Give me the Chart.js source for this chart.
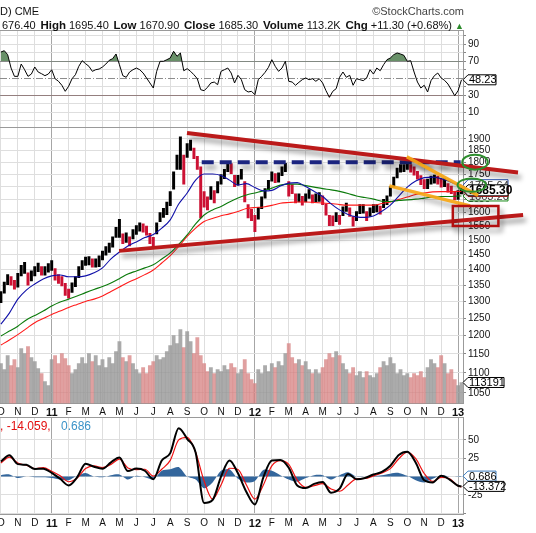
<!DOCTYPE html>
<html>
<head>
<meta charset="utf-8">
<title>Gold (CME) daily chart</title>
<script src="https://cdn.jsdelivr.net/npm/chart.js@4.4.1/dist/chart.umd.min.js"></script>
<style>
  html, body { margin:0; padding:0; background:#fff; }
  #wrap { position:relative; width:536px; height:533px; overflow:hidden; background:#fff;
          font-family:"Liberation Sans", Arial, Helvetica, sans-serif; color:#111; }
  #wrap canvas { position:absolute; left:0; top:0; }
  .t { position:absolute; white-space:nowrap; line-height:13px; font-size:11px; }
  .b { font-weight:bold; font-size:11.5px; }
  #hdr { position:absolute; left:2px; top:18.5px; width:462px; display:flex; justify-content:space-between;
         white-space:nowrap; line-height:13px; font-size:11px; }
</style>
</head>
<body>
<div id="wrap">
  <canvas id="cRsi" width="536" height="533"></canvas>
  <canvas id="cPrice" width="536" height="533"></canvas>
  <canvas id="cMacd" width="536" height="533"></canvas>

  <div class="t" style="left:0;top:5px;">D) CME</div>
  <div class="t" style="right:72px;top:5px;color:#444;">©StockCharts.com</div>

  <div id="hdr">
    <span>676.40</span>
    <span><span class="b">High</span> 1695.40</span>
    <span><span class="b">Low</span> 1670.90</span>
    <span><span class="b">Close</span> 1685.30</span>
    <span><span class="b">Volume</span> 113.2K</span>
    <span><span class="b">Chg</span> +11.30 (+0.68%) <span style="color:#2a8a2a;font-size:9px;">▲</span></span>
  </div>

  <div class="t" style="left:0;top:419px;font-size:12px;line-height:14px;color:#e31010;">, -14.059,</div>
  <div class="t" style="left:61px;top:419px;font-size:12px;line-height:14px;color:#3b93c8;">0.686</div>
</div>

<script>
// ---------------- DATA ----------------
const monthLabels = ['O','N','D','11','F','M','A','M','J','J','A','S','O','N','D','12','F','M','A','M','J','J','A','S','O','N','D','13'];
const yearIdx = [3, 15, 27];

// daily-bar samples every 0.2 month starting Oct 2010 (month 0)
const sampleMonths = Array.from({length:137}, (_, i) => i * 0.2);

const highs = [1330,1360,1384,1378,1366,1388,1414,1424,1390,1396,
  1410,1422,1410,1410,1420,1430,1404,1384,1378,1356,
  1338,1358,1378,1410,1430,1442,1444,1436,1436,1446,
  1462,1478,1490,1512,1546,1575,1522,1526,1512,1538,
  1552,1562,1558,1550,1524,1510,1562,1600,1616,1640,
  1680,1760,1830,1910,1830,1880,1895,1860,1825,1780,
  1680,1660,1700,1684,1720,1748,1770,1800,1794,1745,
  1745,1770,1720,1630,1612,1590,1620,1660,1692,1725,
  1760,1752,1756,1780,1795,1720,1708,1672,1672,1662,
  1672,1688,1668,1672,1676,1664,1632,1590,1588,1600,
  1590,1622,1636,1618,1585,1604,1630,1630,1604,1618,
  1630,1630,1624,1650,1664,1700,1738,1775,1790,1790,
  1800,1790,1780,1762,1744,1728,1730,1742,1746,1742,
  1730,1732,1712,1702,1680,1684,1695.4];

const lows = [1296,1325,1352,1350,1338,1344,1380,1388,1350,1364,
  1380,1394,1382,1382,1392,1398,1366,1356,1348,1318,
  1310,1328,1346,1374,1400,1414,1416,1408,1408,1410,
  1432,1448,1458,1476,1510,1510,1488,1492,1480,1504,
  1520,1532,1528,1518,1488,1476,1522,1566,1582,1592,
  1626,1690,1770,1770,1710,1820,1850,1815,1770,1580,
  1620,1610,1650,1636,1675,1710,1732,1760,1752,1700,
  1706,1730,1640,1580,1570,1530,1575,1615,1655,1688,
  1722,1716,1718,1744,1760,1662,1672,1636,1640,1628,
  1640,1654,1636,1640,1642,1630,1590,1552,1552,1566,
  1556,1588,1604,1586,1550,1570,1596,1598,1570,1586,
  1600,1602,1594,1618,1630,1662,1698,1735,1758,1760,
  1770,1758,1746,1730,1708,1692,1692,1710,1714,1710,
  1698,1700,1678,1672,1648,1650,1670.9];

const volumes = [215600,183300,258700,204800,237200,194000,296500,269500,307200,247900,
  226400,188700,161700,118600,97000,237200,258700,215600,269500,242600,
  204800,161700,183300,215600,247900,215600,269500,226400,258700,204800,
  237200,194000,247900,215600,280300,334200,247900,226400,258700,215600,
  183300,161700,194000,161700,204800,226400,258700,237200,247900,280300,
  312600,366500,323400,398900,301800,388100,334200,269500,355700,258700,
  215600,172500,194000,161700,183300,172500,204800,183300,215600,194000,
  161700,183300,237200,161700,129400,107800,183300,161700,204800,172500,
  215600,194000,226400,204800,269500,323400,247900,215600,237200,204800,
  226400,183300,161700,183300,161700,194000,237200,269500,247900,280300,
  258700,215600,183300,161700,194000,150900,172500,140100,172500,150900,
  140100,161700,194000,226400,204800,247900,215600,161700,183300,150900,
  161700,140100,161700,150900,172500,140100,194000,237200,215600,194000,
  258700,215600,161700,183300,129400,97000,113191];

const rsi = [80.9,82.5,77.8,62.1,52.3,52.3,66.8,60.1,52.3,55,
  63.3,57.4,55.4,53.1,55,60.1,49.5,46.5,41.8,34.7,
  40.6,49.5,54.2,64.1,70.7,67.2,64.1,58.2,60.1,60.9,
  63.3,66.8,71.2,73.1,78.6,66,53.1,51.2,57.4,60.1,
  62.1,60.1,56.2,50.4,44.5,38.6,58.2,70,70,71.9,
  73.9,81.8,75.9,79.8,58.9,61.3,58.2,54.2,49.5,36.6,
  35.4,39.4,44.5,45.6,42.5,58.2,60.1,62.1,56.2,44.5,
  53.5,48.4,36.6,33.9,34.7,30.7,48.4,52.3,57,62.9,
  71.9,64.1,58.2,62.1,70,46.5,45.6,41.8,45.3,48.4,
  50.4,48.4,49.5,46.5,49.5,44.5,35.4,27.6,34.7,37.8,
  51.2,57.4,51.2,53.5,41.8,49.5,48.4,47.2,50.4,60.1,
  55,62.1,58.9,66,71.9,73.9,77.8,79.8,78.6,77,
  70,70.7,57.4,45.6,38.6,41.8,33.9,47.2,53.1,56.2,
  50.4,47.6,43.3,36.6,29.5,35.4,48.23];

// moving averages, MACD: every half month, plus the last bar
const halfMonths = [0,0.5,1,1.5,2,2.5,3,3.5,4,4.5,5,5.5,6,6.5,7,7.5,8,8.5,9,9.5,10,10.5,11,11.5,12,12.5,13,13.5,
  14,14.5,15,15.5,16,16.5,17,17.5,18,18.5,19,19.5,20,20.5,21,21.5,22,22.5,23,23.5,24,24.5,25,25.5,26,26.5,27,27.2];

const ma50 = [1233,1265,1307,1335,1354,1370,1380,1383,1377,1377,
  1380,1390,1406,1436,1459,1480,1494,1509,1520,1543,
  1573,1632,1675,1726,1751,1751,1745,1726,1706,1712,
  1696,1683,1685,1702,1714,1716,1700,1681,1661,1633,
  1610,1593,1584,1582,1587,1605,1628,1663,1698,1722,
  1736,1738,1732,1720,1708,1705.64];
const ma100 = [1199,1213,1227,1245,1258,1271,1286,1298,1307,1316.5,
  1327,1337,1346,1357,1371,1386,1396,1406,1416,1435.5,
  1456,1485,1518.5,1558,1591,1610,1623,1640,1655,1667,
  1675,1683,1694,1706,1710,1710,1704,1698,1692,1687,
  1681,1673,1663,1657,1651,1643,1642,1646,1648,1651,
  1655,1659,1661,1661,1663,1663.2];
const ma200 = [1174,1188,1203,1220,1237,1249,1261,1271,1282,1291,
  1300,1307,1316.5,1330.5,1344.6,1358.8,1371,1384,1399,1422,
  1447,1478,1513,1543,1567,1578,1588,1595,1604,1615,
  1619,1621,1627,1635,1638,1640,1640,1638,1636,1634,
  1630,1628,1628,1628,1628,1634,1640,1650,1659,1669,
  1675,1679,1680,1680,1681,1680.9];

const macd = [20.5,29,17,16,10.5,10.8,5,-3,-12,-1,
  17.6,13.5,10.8,19.5,26,7.5,10.9,8,-3.5,22,
  32,66,51.5,33,-36,-32,0,22.1,4.5,-21,
  -38,-1,22,22.6,12,-12,-15.5,-10,-7.5,-22,
  -16.5,3.5,-3.5,-1.8,2.8,6.4,14.8,29.5,33.8,19,
  -5,-8,1,-4,-12.5,-13.372];
const signal = [18.5,26.6,18.5,15.4,10.9,12.3,7.3,1,-7,-2.1,
  10.9,14.5,12.3,16.7,23.9,11.8,9.6,10,0.6,10,
  22.1,50,53.6,33.4,-6,-30.8,-11.5,11.4,9.6,-11.5,
  -30.8,-11.5,14.5,21.7,16.7,-4.8,-14.7,-12.4,-9.7,-17,
  -20,-11.5,-3,-2.6,1,5,10.9,24.4,33.4,24.4,
  4.2,-6.6,-1.2,-3,-12.9,-14.059];
const histogram = [2,3,-2,0,-1,-1,-2,-4,-5,1,
  5,0,-1,2,3,-4,1,-1,-4,8,
  10,13,0,-4,-16,-8,8,10,-3,-8,
  -6,9,8,2,-4,-7,-2,2,2,-4,
  2,6,0,0,1,2,4,5,1,-5,
  -8,-3,2,0,0.5,0.686];

// tick values
const priceTicks = [1050,1100,1150,1200,1250,1300,1350,1400,1450,1500,1550,1600,1650,1700,1750,1800,1850,1900,1950];
const priceLabels = [1050,1100,1150,1200,1250,1300,1350,1400,1450,1500,1550,1600,1650,1700,1750,1800,1850,1900];
const rsiTicks = [0,10,20,30,40,50,60,70,80,90,100];
const rsiLabels = [10,30,70,90];
const rsiLevels = [70, 50, 30];
const macdTicks = [-50,-25,0,25,50];
const macdLabels = [-25,0,25,50];

// last values shown in the right-hand tags
const lastClose = 1685.30;

// hand-drawn annotations, [month, price]
const upperRedLine = [[10.99,1927],[30.54,1757]];
const lowerRedLine = [[6.98,1463],[30.84,1591]];
const blueDashLine = [[11.86,1800],[27.15,1800]];
const orangeUpper = [[23.97,1823],[28.18,1665]];
const orangeLower = [[22.94,1703],[27.71,1625]];
const ellipseCenters = [[28.0,1800],[27.81,1706]];
const redBox = [[26.69,1624.7],[29.38,1550.6]];

// ---------------- HELPERS ----------------
const FONT = '"Liberation Sans", Arial, Helvetica, sans-serif';
const X_MIN = -0.053, X_MAX = 27.29;
const P_MIN = 1024.2, P_MAX = 1951.7;
const VOL_MAX = 1487000;
const pts = (xs, ys) => ys.map((v, i) => ({x: xs[i], y: v}));
const pairs = arr => arr.map(([x, y]) => ({x, y}));
const isYear = c => c && c.tick && yearIdx.includes(c.tick.value);

function xAxis(showLabels) {
  return {
    type:'linear', position:'bottom', min:X_MIN, max:X_MAX, bounds:'data', offset:false,
    afterBuildTicks(s){ s.ticks = monthLabels.map((_, i) => ({value:i})); },
    afterFit(s){ s.height = showLabels ? 14 : 0; s.paddingLeft = 0; s.paddingRight = 0; },
    grid:{ offset:false, drawTicks:false, lineWidth:1, color: c => isYear(c) ? '#a6a6a6' : '#dedede' },
    border:{ display:false },
    ticks:{ display:showLabels, autoSkip:false, maxRotation:0, minRotation:0, padding:3, color:'#111',
      font: c => isYear(c) ? {family:FONT, size:11, weight:'bold'} : {family:FONT, size:10},
      callback:(v, i) => monthLabels[i] }
  };
}
function yAxis(extra) {
  return Object.assign({
    position:'right', bounds:'data',
    afterFit(s){ s.width = 73; s.paddingTop = 0; s.paddingBottom = 0; },
    border:{ display:true, color:'#9a9a9a' }
  }, extra);
}
function baseOptions(pad, scales) {
  return {
    responsive:false, animation:false, devicePixelRatio:1, events:[],
    layout:{ padding:pad, autoPadding:false },
    plugins:{ legend:{display:false}, tooltip:{enabled:false} },
    scales
  };
}
function drawTag(ctx, x, yc, w, h, text, stroke, font, color) {
  ctx.save();
  ctx.beginPath();
  ctx.moveTo(x, yc);
  ctx.lineTo(x + 5, yc - h / 2);
  ctx.lineTo(x + 5 + w, yc - h / 2);
  ctx.lineTo(x + 5 + w, yc + h / 2);
  ctx.lineTo(x + 5, yc + h / 2);
  ctx.closePath();
  ctx.fillStyle = '#fff'; ctx.fill();
  ctx.lineWidth = 1; ctx.strokeStyle = stroke; ctx.stroke();
  ctx.fillStyle = color || '#000'; ctx.font = font;
  ctx.textAlign = 'left'; ctx.textBaseline = 'middle';
  ctx.fillText(text, x + 6, yc + 0.5);
  ctx.restore();
}
const framePlugin = {
  id:'frame',
  beforeDatasetsDraw(chart) {
    const {ctx, chartArea:a} = chart;
    ctx.save();
    ctx.strokeStyle = '#9a9a9a'; ctx.lineWidth = 1;
    ctx.beginPath();
    ctx.moveTo(a.left, a.top); ctx.lineTo(a.right, a.top);
    ctx.moveTo(a.left, a.bottom); ctx.lineTo(a.right, a.bottom);
    ctx.stroke();
    ctx.restore();
  }
};
const shadowPlugin = {
  id:'shadow',
  beforeDatasetDraw(chart, args) {
    const ds = chart.data.datasets[args.index];
    if (ds.shadow) {
      const ctx = chart.ctx;
      ctx.save();
      ctx.shadowColor = 'rgba(0,0,0,0.38)'; ctx.shadowBlur = 5;
      ctx.shadowOffsetX = 3; ctx.shadowOffsetY = 5;
    }
  },
  afterDatasetDraw(chart, args) {
    if (chart.data.datasets[args.index].shadow) chart.ctx.restore();
  }
};

// ---------------- RSI PANEL ----------------
new Chart(document.getElementById('cRsi'), {
  type:'line',
  data:{ datasets:[
    { data:pts(sampleMonths, rsi), borderColor:'#000', borderWidth:1, pointRadius:0, fill:false, order:0 },
    { data:pts(sampleMonths, rsi), borderColor:'rgba(0,0,0,0)', borderWidth:1, pointRadius:0, order:1,
      fill:{ target:{value:70}, above:'rgba(88,132,88,0.9)', below:'rgba(0,0,0,0)' } },
    { data:pts(sampleMonths, rsi), borderColor:'rgba(0,0,0,0)', borderWidth:1, pointRadius:0, order:2,
      fill:{ target:{value:30}, above:'rgba(0,0,0,0)', below:'rgba(192,72,72,0.9)' } }
  ]},
  options: baseOptions({top:30.5, bottom:405.5, left:0, right:0}, {
    x: xAxis(false),
    y: yAxis({ type:'linear', min:-7.88, max:106.24,
      afterBuildTicks(s){ s.ticks = rsiTicks.map(v => ({value:v})); },
      grid:{ drawTicks:true, tickLength:3, tickColor:'#888', lineWidth:1,
        color: c => (c.tick && (c.tick.value === 70 || c.tick.value === 30)) ? '#8c8c8c'
                    : (c.tick && c.tick.value === 50) ? 'rgba(0,0,0,0)' : '#dedede' },
      ticks:{ padding:2, color:'#111', font:{family:FONT, size:10}, autoSkip:false,
        callback: v => rsiLabels.includes(v) ? String(v) : '' }
    })
  }),
  plugins:[framePlugin, {
    id:'rsiLevels',
    beforeDatasetsDraw(chart) {
      const {ctx, chartArea:a, scales:{y}} = chart;
      ctx.save();
      ctx.strokeStyle = '#8c8c8c'; ctx.lineWidth = 1; ctx.setLineDash([7,2,1,2]);
      const py = Math.round(y.getPixelForValue(rsiLevels[1])) + 0.5;
      ctx.beginPath(); ctx.moveTo(a.left, py); ctx.lineTo(a.right, py); ctx.stroke();
      ctx.restore();
    },
    afterDraw(chart) {
      const {ctx, scales:{y}} = chart;
      const v = rsi[rsi.length - 1];
      drawTag(ctx, 463, y.getPixelForValue(v), 28, 10, v.toFixed(2), '#000', '11px ' + FONT);
    }
  }]
});

// ---------------- PRICE PANEL ----------------
const priceColors = highs.map((h, i) => (i > 0 && h + lows[i] < highs[i-1] + lows[i-1]) ? '#cc1133' : '#000');
const volColors = highs.map((h, i) => (i > 0 && h + lows[i] < highs[i-1] + lows[i-1]) ? 'rgba(214,128,128,0.75)' : 'rgba(150,150,150,0.8)');

new Chart(document.getElementById('cPrice'), {
  type:'line',
  data:{ datasets:[
    { type:'bar', data:pts(sampleMonths, volumes), yAxisID:'yv', backgroundColor:volColors,
      barThickness:3.2, grouped:false, order:10 },
    { type:'bar', data:highs.map((h, i) => ({x:sampleMonths[i], y:[lows[i], h]})), yAxisID:'y',
      backgroundColor:priceColors, barThickness:2.3, grouped:false, order:6 },
    { data:pts(halfMonths, ma200), yAxisID:'y', borderColor:'#ff1a1a', borderWidth:1.1, pointRadius:0, cubicInterpolationMode:'monotone', order:5 },
    { data:pts(halfMonths, ma100), yAxisID:'y', borderColor:'#0b7a0b', borderWidth:1.1, pointRadius:0, cubicInterpolationMode:'monotone', order:4 },
    { data:pts(halfMonths, ma50), yAxisID:'y', borderColor:'#1010a8', borderWidth:1.1, pointRadius:0, cubicInterpolationMode:'monotone', order:3 },
    { data:pairs(blueDashLine), yAxisID:'y', borderColor:'#1c2580', borderWidth:4, borderDash:[12,6], pointRadius:0, clip:false, shadow:true, order:2 },
    { data:pairs(upperRedLine), yAxisID:'y', borderColor:'#bb1a1a', borderWidth:4, pointRadius:0, clip:false, shadow:true, order:1 },
    { data:pairs(lowerRedLine), yAxisID:'y', borderColor:'#bb1a1a', borderWidth:4, pointRadius:0, clip:false, shadow:true, order:1 },
    { data:pairs(orangeUpper), yAxisID:'y', borderColor:'rgba(247,166,20,0.92)', borderWidth:3.5, pointRadius:0, clip:false, shadow:true, order:0 },
    { data:pairs(orangeLower), yAxisID:'y', borderColor:'rgba(247,166,20,0.92)', borderWidth:3.5, pointRadius:0, clip:false, shadow:true, order:0 }
  ]},
  options: baseOptions({top:127.5, bottom:115.5, left:0, right:0}, {
    x: xAxis(true),
    y: yAxis({ type:'logarithmic', min:P_MIN, max:P_MAX,
      afterBuildTicks(s){ s.ticks = priceTicks.map(v => ({value:v})); },
      grid:{ drawTicks:true, tickLength:3, tickColor:'#888', lineWidth:1, color:'#dedede' },
      ticks:{ padding:2, color:'#111', font:{family:FONT, size:10}, autoSkip:false,
        callback: v => priceLabels.includes(v) ? String(v) : '' }
    }),
    yv: { type:'linear', display:false, min:0, max:VOL_MAX }
  }),
  plugins:[framePlugin, shadowPlugin, {
    id:'priceTags',
    beforeDatasetsDraw(chart) {
      const {ctx, scales:{y, yv}} = chart;
      const f = '11px ' + FONT;
      const b50 = ma50[ma50.length-1], b100 = ma100[ma100.length-1], b200 = ma200[ma200.length-1];
      drawTag(ctx, 463, y.getPixelForValue(b50), 40, 11, b50.toFixed(2), '#2b50b0', f, '#333');
      drawTag(ctx, 463, y.getPixelForValue(b100), 40, 10, b100.toFixed(2), '#1a8a1a', f, '#333');
      drawTag(ctx, 463, y.getPixelForValue(b200), 40, 10, b200.toFixed(2), '#e02020', f, '#333');
      drawTag(ctx, 463, y.getPixelForValue(lastClose), 40, 11, lastClose.toFixed(2), '#000', 'bold 12px ' + FONT);
      const v = volumes[volumes.length-1];
      drawTag(ctx, 463, yv.getPixelForValue(v), 36, 10, String(v), '#000', f);
    },
    afterDatasetsDraw(chart) {
      const {ctx, scales:{x, y}} = chart;
      const radii = [[12.8, 7.5], [14.2, 6.7]];
      ctx.save();
      ctx.strokeStyle = '#2d8d2d'; ctx.lineWidth = 2;
      ellipseCenters.forEach(([m, p], i) => {
        ctx.beginPath();
        ctx.ellipse(x.getPixelForValue(m), y.getPixelForValue(p), radii[i][0], radii[i][1], 0, 0, Math.PI * 2);
        ctx.stroke();
      });
      ctx.shadowColor = 'rgba(0,0,0,0.38)'; ctx.shadowBlur = 5; ctx.shadowOffsetX = 3; ctx.shadowOffsetY = 5;
      ctx.strokeStyle = '#b30f0f'; ctx.lineWidth = 2.5;
      const x1 = x.getPixelForValue(redBox[0][0]), y1 = y.getPixelForValue(redBox[0][1]);
      const x2 = x.getPixelForValue(redBox[1][0]), y2 = y.getPixelForValue(redBox[1][1]);
      ctx.strokeRect(x1, y1, x2 - x1, y2 - y1);
      ctx.restore();
    }
  }]
});

// ---------------- MACD PANEL ----------------
new Chart(document.getElementById('cMacd'), {
  type:'line',
  data:{ datasets:[
    { data:pts(halfMonths, histogram), borderColor:'rgba(0,0,0,0)', borderWidth:1, backgroundColor:'#33669c',
      pointRadius:0, fill:'origin', tension:0.25, order:3 },
    { data:pts(halfMonths, signal), borderColor:'#ee1111', borderWidth:1.2, pointRadius:0, cubicInterpolationMode:'monotone', order:2 },
    { data:pts(halfMonths, macd), borderColor:'#000', borderWidth:2, pointRadius:0, cubicInterpolationMode:'monotone', order:1 }
  ]},
  options: baseOptions({top:417.5, bottom:4.5, left:0, right:0}, {
    x: xAxis(true),
    y: yAxis({ type:'linear', min:-51.7, max:80.6,
      afterBuildTicks(s){ s.ticks = macdTicks.map(v => ({value:v})); },
      grid:{ drawTicks:true, tickLength:3, tickColor:'#888', lineWidth:1, color:'#dedede' },
      ticks:{ padding:2, color:'#111', font:{family:FONT, size:10}, autoSkip:false,
        callback: v => macdLabels.includes(v) ? String(v) : '' }
    })
  }),
  plugins:[framePlugin, {
    id:'macdTags',
    afterDraw(chart) {
      const {ctx, scales:{y}} = chart;
      const f = '11px ' + FONT;
      const h = histogram[histogram.length-1], m = macd[macd.length-1];
      drawTag(ctx, 463, y.getPixelForValue(h), 28, 10, h.toFixed(3), '#3b7dc0', f);
      drawTag(ctx, 463, y.getPixelForValue(m), 36, 10, m.toFixed(3), '#000', f);
    }
  }]
});
</script>
</body>
</html>
